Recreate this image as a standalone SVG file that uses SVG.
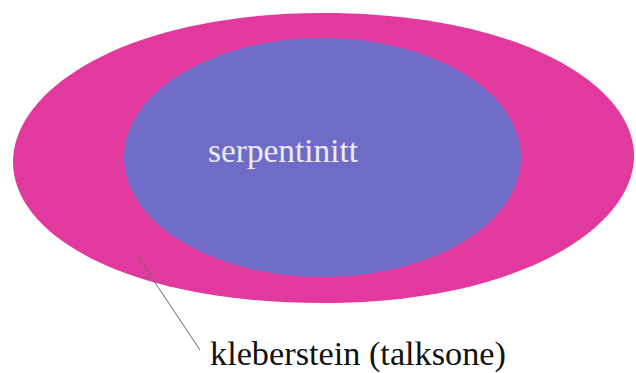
<svg xmlns="http://www.w3.org/2000/svg" width="636" height="373" viewBox="0 0 636 373">
  <style>
    .lbl { font-family: "Liberation Serif", "Times New Roman", serif; }
  </style>
  <rect width="636" height="373" fill="#ffffff"/>
  <g id="kleberstein">
    <path d="M 13,162 C 13,88 128,13 323,13 C 518,13 634,84 634,156 C 634,228 518,303 323,303 C 128,303 13,236 13,162 Z" fill="#e1399d"/>
  </g>
  <g id="serpentinitt">
    <ellipse cx="322.5" cy="157.5" rx="198.5" ry="119.5" fill="#6e6cc6"/>
    <text class="lbl" x="208" y="162" font-size="33" fill="#ececf4" textLength="150" lengthAdjust="spacingAndGlyphs">serpentinitt</text>
  </g>
  <g id="connectors">
    <line x1="138" y1="257" x2="200" y2="350" stroke="#6a6a6a" stroke-width="1"/>
  </g>
  <g id="label">
    <text class="lbl" x="210" y="365" font-size="34" fill="#111111" textLength="296" lengthAdjust="spacingAndGlyphs">kleberstein (talksone)</text>
  </g>
</svg>
